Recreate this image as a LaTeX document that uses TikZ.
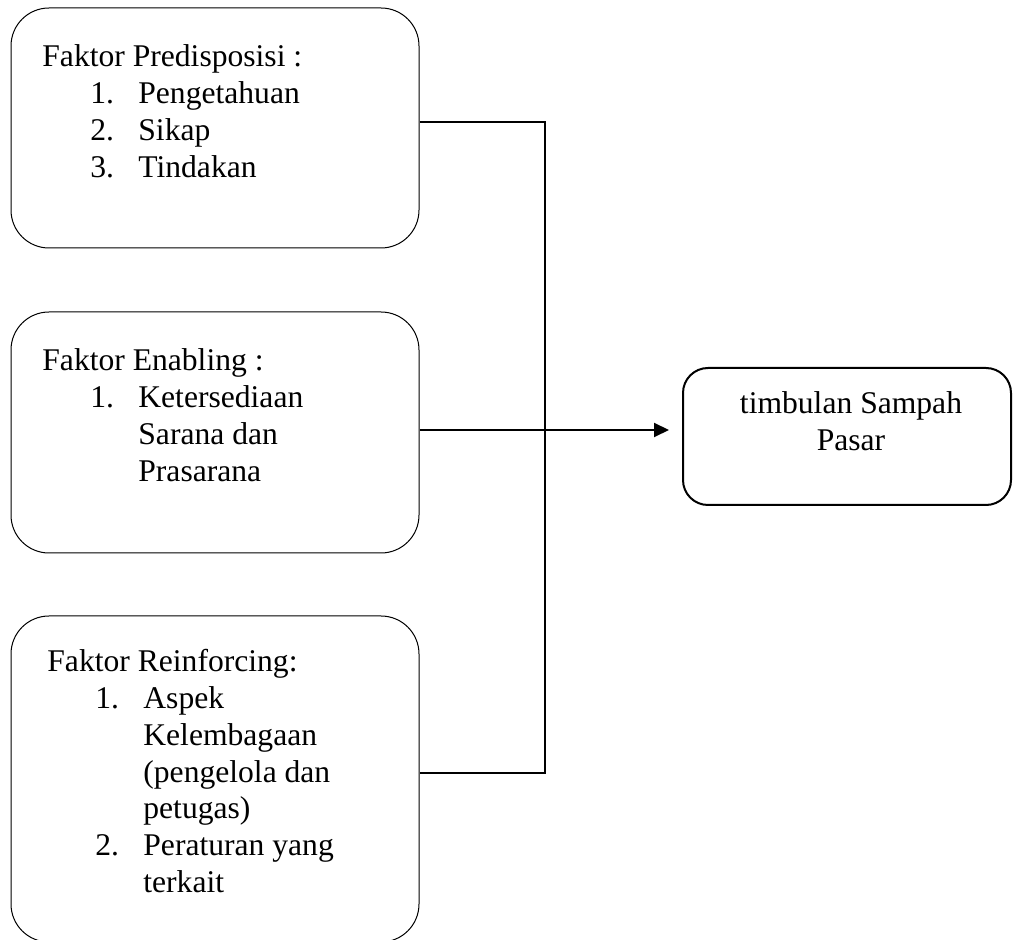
\documentclass[tikz,border=0pt]{standalone}
\usepackage{fontspec}
\setmainfont{Liberation Serif}
\usetikzlibrary{arrows.meta}
\tikzset{
  box/.style={draw, line width=0.5pt, rounded corners=19pt, inner sep=0pt},
  tbox/.style={draw, line width=1pt, rounded corners=12.5pt, inner sep=0pt},
  conn/.style={draw, line width=1pt},
  txt/.style={inner sep=0pt, anchor=base west, font=\fontsize{15.8}{18.35}\selectfont},
  ctxt/.style={inner sep=0pt, anchor=base, font=\fontsize{15.8}{18.35}\selectfont}
}
\newcommand{\itm}[2]{\hspace*{24pt}\makebox[24pt][l]{#1}#2}
\newcommand{\cont}[1]{\hspace*{48pt}#1}
\begin{document}
\begin{tikzpicture}[x=0.5pt,y=-0.5pt]
\useasboundingbox (0,0) rectangle (1013,940);
\clip (0,0) rectangle (1013,940);
% boxes
\node[box, minimum width=204pt, minimum height=120pt] (b1) at (215,128) {};
\node[box, minimum width=204pt, minimum height=120.5pt] (b2) at (215,432.5) {};
\node[box, minimum width=204pt, minimum height=163pt] (b3) at (215,779) {};
\node[tbox, minimum width=164pt, minimum height=68.5pt] (t) at (847,436.5) {};
% texts
\node[txt] (t1) at (42,67) {\begin{tabular}[t]{@{}l@{}}
Faktor Predisposisi :\\
\itm{1.}{Pengetahuan}\\
\itm{2.}{Sikap}\\
\itm{3.}{Tindakan}
\end{tabular}};
\node[txt] (t2) at (42,371) {\begin{tabular}[t]{@{}l@{}}
Faktor Enabling :\\
\itm{1.}{Ketersediaan}\\
\cont{Sarana dan}\\
\cont{Prasarana}
\end{tabular}};
\node[txt] (t3) at (47,672) {\begin{tabular}[t]{@{}l@{}}
Faktor Reinforcing:\\
\itm{1.}{Aspek}\\
\cont{Kelembagaan}\\
\cont{(pengelola dan}\\
\cont{petugas)}\\
\itm{2.}{Peraturan yang}\\
\cont{terkait}
\end{tabular}};
\node[ctxt] (tt) at (851,414) {\begin{tabular}[t]{@{}c@{}}
timbulan Sampah\\
Pasar
\end{tabular}};
% connectors
\coordinate (jb) at (545,773);
\draw[conn] ([yshift=3pt]b1.east) -| (jb) -- ([yshift=3pt]b3.east);
\draw[conn, -{Triangle[length=7.5pt,width=7pt]}, shorten >=6.5pt]
  ([yshift=1.25pt]b2.east) -- ([yshift=1.25pt]b2.east -| t.west);
\end{tikzpicture}
\end{document}
